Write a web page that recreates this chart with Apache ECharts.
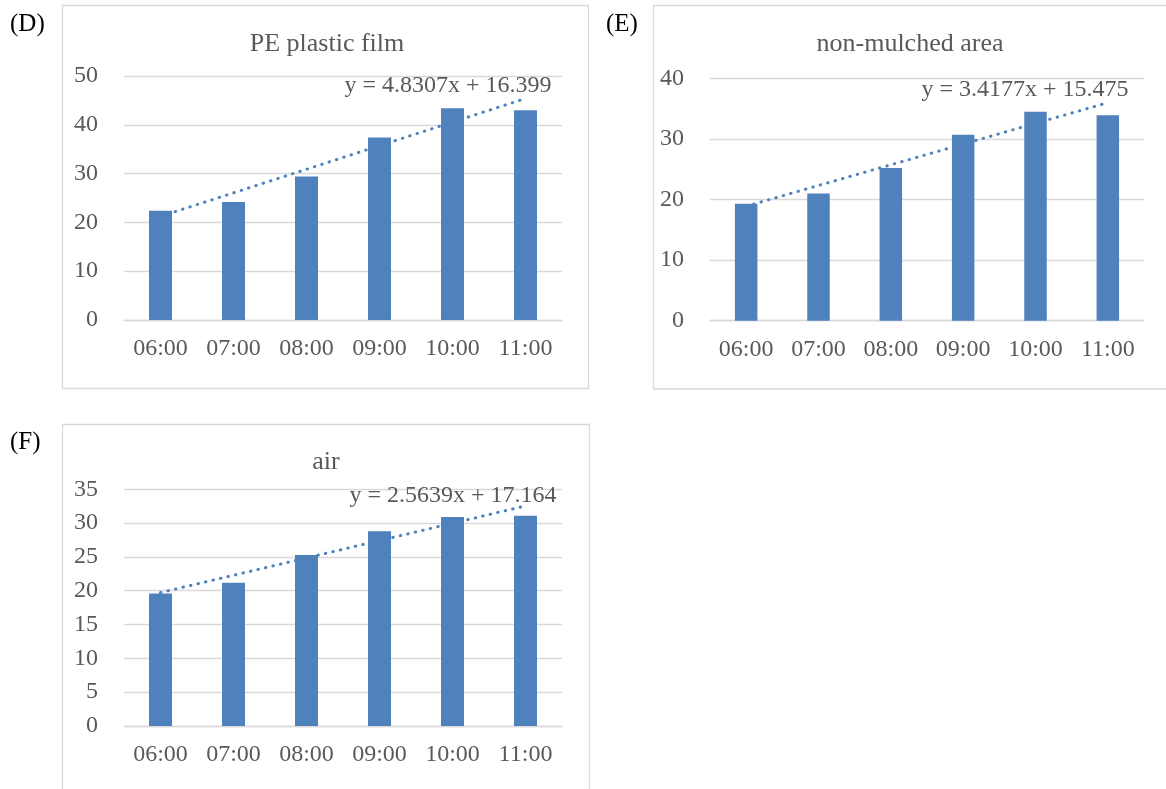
<!DOCTYPE html>
<html>
<head>
<meta charset="utf-8">
<script src="https://cdn.jsdelivr.net/npm/echarts@6/dist/echarts.min.js"></script>
<style>
  html, body { margin: 0; padding: 0; background: #fff; }
  #main { width: 1166px; height: 789px; }
</style>
</head>
<body>
<div id="main"></div>
<script>
// values
const hours = ['06:00', '07:00', '08:00', '09:00', '10:00', '11:00'];
const peFilm = [22.4, 24.2, 29.4, 37.4, 43.4, 43.0];
const nonMulched = [19.3, 21.0, 25.2, 30.7, 34.5, 33.9];
const air = [19.6, 21.2, 25.3, 28.8, 30.9, 31.1];

// trendline equations printed on each panel
const slopes = [4.8307, 3.4177, 2.5639];
const intercepts = [16.399, 15.475, 17.164];

const panelNames = ['PE plastic film', 'non-mulched area', 'air'];
const panelTags = ['(D)', '(E)', '(F)'];
const yMax = [50, 40, 35];
const yStep = [10, 10, 5];

const BLUE = '#4f81bd';
const GREY = '#595959';
const LINE = '#d9d9d9';
const FONT = '"Liberation Serif", "Times New Roman", serif';

// layout of the three panels
const grids = [
  { left: 124, top: 76, width: 438, height: 244 },
  { left: 710, top: 78.3, width: 434, height: 242.4 },
  { left: 124, top: 489.3, width: 438, height: 236.7 }
];
const frames = [
  { x: 62.5, y: 5.5, width: 526, height: 383 },
  { x: 653.5, y: 5.5, width: 526, height: 383.5 },
  { x: 62.5, y: 424.5, width: 527, height: 383 }
];
const tagPos = [[10, 24], [606, 24], [10, 442]];
const titlePos = [[327, 44], [910, 44], [326, 462]];
const eqPos = [[448, 86], [1025, 90], [453, 496]];
const barWidths = [23, 22.5, 23];

const seriesData = [peFilm, nonMulched, air];

function trendOf(k) {
  return hours.map((h, i) => +(slopes[k] * (i + 1) + intercepts[k]).toFixed(3));
}

function fmt(v) { return v.toFixed(4).replace(/0$/, '') }

const chart = echarts.init(document.getElementById('main'), null, { renderer: 'canvas' });

const graphic = [];
frames.forEach(f => {
  graphic.push({
    type: 'rect', shape: f, silent: true,
    style: { fill: 'none', stroke: LINE, lineWidth: 1.3 }
  });
});
panelTags.forEach((t, k) => {
  graphic.push({
    type: 'text', x: tagPos[k][0], y: tagPos[k][1],
    style: { text: t, font: '25px ' + FONT, fill: '#000', align: 'left', verticalAlign: 'middle' }
  });
  graphic.push({
    type: 'text', x: titlePos[k][0], y: titlePos[k][1],
    style: { text: panelNames[k], font: '26px ' + FONT, fill: GREY, align: 'center', verticalAlign: 'middle' }
  });
  graphic.push({
    type: 'text', x: eqPos[k][0], y: eqPos[k][1], z: 10,
    style: {
      text: 'y = ' + slopes[k] + 'x + ' + intercepts[k],
      font: '24px ' + FONT, fill: GREY, align: 'center', verticalAlign: 'middle'
    }
  });
});

const xAxis = grids.map((g, k) => ({
  type: 'category', gridIndex: k, data: hours,
  axisTick: { show: false },
  axisLine: { lineStyle: { color: LINE, width: 1.3 } },
  axisLabel: { color: GREY, fontFamily: FONT, fontSize: 24, margin: 17 }
}));
const yAxis = grids.map((g, k) => ({
  type: 'value', gridIndex: k, min: 0, max: yMax[k], interval: yStep[k],
  axisLine: { show: false }, axisTick: { show: false },
  splitLine: { lineStyle: { color: LINE, width: 1.3 } },
  axisLabel: { color: GREY, fontFamily: FONT, fontSize: 24, margin: 26 }
}));

const series = [];
seriesData.forEach((vals, k) => {
  series.push({
    type: 'line', xAxisIndex: k, yAxisIndex: k,
    data: trendOf(k), symbol: 'none', silent: true,
    lineStyle: { color: BLUE, width: 3, type: [0.5, 7.2], cap: 'round' }
  });
  series.push({
    type: 'bar', xAxisIndex: k, yAxisIndex: k,
    data: vals, barWidth: barWidths[k],
    itemStyle: { color: BLUE }
  });
});

chart.setOption({
  animation: false,
  grid: grids,
  xAxis: xAxis,
  yAxis: yAxis,
  series: series,
  graphic: graphic
});
</script>
</body>
</html>
